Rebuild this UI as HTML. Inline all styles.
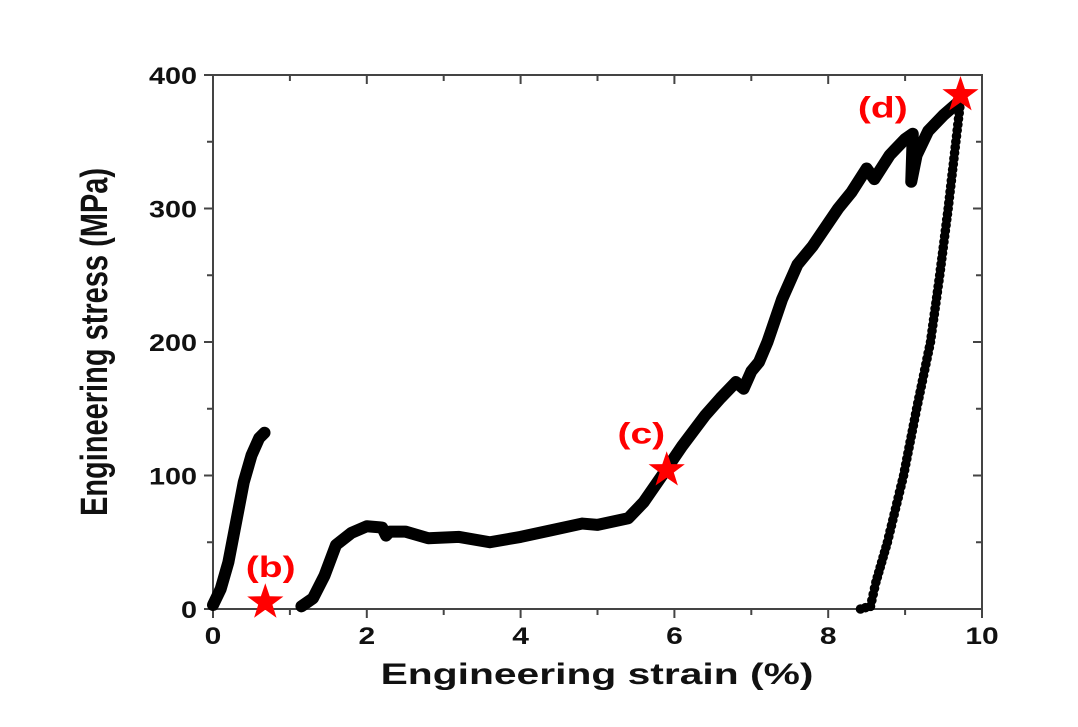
<!DOCTYPE html>
<html><head><meta charset="utf-8"><style>
body{margin:0;background:#fff;width:1078px;height:722px;overflow:hidden}
text{font-family:"Liberation Sans",Arial,sans-serif;font-weight:bold}
</style></head><body>
<svg id="chart" width="1078" height="722" viewBox="0 0 1078 722"></svg>
<script>
const xTicks=[0,2,4,6,8,10];
const yTicks=[0,100,200,300,400];
const loadStrain=[0,0.1,0.2,0.3,0.4,0.5,0.6,0.67];
const loadStress=[3,15,35,65,95,115,128,132];
const mainStrain=[1.15,1.3,1.45,1.6,1.8,2.0,2.2,2.25,2.3,2.5,2.8,3.2,3.6,4.0,4.4,4.8,5.0,5.4,5.6,5.84,6.1,6.4,6.6,6.8,6.9,7.0,7.1,7.21,7.4,7.6,7.8,8.13,8.3,8.5,8.6,8.8,9.0,9.1,9.08,9.15,9.3,9.5,9.7];
const mainStress=[2,8,25,48,57,62,61,55,58,58,53,54,50,54,59,64,63,68,80,100,122,145,158,170,165,178,185,200,232,258,272,300,312,330,322,340,352,356,320,340,358,370,380];
const unloadStrain=[8.42,8.55,8.62,8.77,8.98,9.15,9.33,9.45,9.56,9.66,9.72];
const unloadStress=[0,2,20,50,100,150,200,250,300,350,380];
const starStrain=[0.68,5.9,9.72];
const starStress=[5,104,385];
const starLabels=["(b)","(c)","(d)"];
const labelStrain=[0.75,5.57,8.71];
const labelStress=[24,124,368];

const X0=213,X1=982,Y0=609,Y1=75;
const sx=v=>X0+(v/10)*(X1-X0);
const sy=v=>Y0-(v/400)*(Y0-Y1);
const svg=document.getElementById('chart');
const NS='http://www.w3.org/2000/svg';
function mk(tag,attrs,parent){const e=document.createElementNS(NS,tag);for(const k in attrs)e.setAttribute(k,attrs[k]);(parent||svg).appendChild(e);return e;}
function stxt(x,y,anchor,size,fill,str,k){
  const t=mk('text',{x:0,y:0,'text-anchor':anchor,'font-size':size,fill:fill,transform:'translate('+x+' '+y+') scale('+k+' 1)'});
  t.textContent=str;return t;
}

const frame=mk('rect',{x:X0,y:Y1,width:X1-X0,height:Y0-Y1,fill:'none',stroke:'#444','stroke-width':2});



for(let i=0;i<=10;i++){
  const x=sx(i),len=i%2===0?9:6;
  const t=mk('line',{x1:x,y1:Y0,x2:x,y2:Y0+len,stroke:'#444','stroke-width':2});
  
  
  const t2=mk('line',{x1:x,y1:Y1,x2:x,y2:Y1+len,stroke:'#444','stroke-width':2});
  
  
}
for(let v=0;v<=400;v+=50){
  const y=sy(v),len=v%100===0?9:6;
  const t=mk('line',{x1:X0-len,y1:y,x2:X0,y2:y,stroke:'#444','stroke-width':2});
  
  
  const t2=mk('line',{x1:X1-len,y1:y,x2:X1,y2:y,stroke:'#444','stroke-width':2});
  
  
}
xTicks.forEach(v=>{
  const t=stxt(sx(v),Y0+35,'middle',24,'#111',v,1.25);
  
  
});
yTicks.forEach(v=>{
  const t=stxt(X0-16,sy(v)+9,'end',24,'#111',v,1.2);
  
  
});
const xt=stxt(597,684,'middle',30,'#111','Engineering strain (%)',1.36);


const yt=mk('text',{x:0,y:0,'text-anchor':'middle','font-size':29,fill:'#111',transform:'translate(107 342) rotate(-90) scale(1 1.3)'});
yt.textContent='Engineering stress (MPa)';



function curve(xs,ys,name){
  const pts=xs.map((x,i)=>sx(x)+','+sy(ys[i])).join(' ');
  const p=mk('polyline',{points:pts,fill:'none',stroke:'#000','stroke-width':12,'stroke-linejoin':'round','stroke-linecap':'round'});
  
  
}
curve(loadStrain,loadStress,'initial-loading-curve');
curve(mainStrain,mainStress,'main-loading-curve');

const ug=mk('g',{});


for(let i=0;i<unloadStrain.length-1;i++){
  const xa=sx(unloadStrain[i]),ya=sy(unloadStress[i]),xb=sx(unloadStrain[i+1]),yb=sy(unloadStress[i+1]);
  const d=Math.hypot(xb-xa,yb-ya),n=Math.max(1,Math.round(d/5.5));
  for(let k=0;k<n;k++){
    const f=k/n;
    const c=mk('circle',{cx:xa+(xb-xa)*f,cy:ya+(yb-ya)*f,r:4.8,fill:'#000'},ug);
    
    
  }
}

function starPath(cx,cy,R,r){let s='';for(let i=0;i<10;i++){const a=-Math.PI/2+i*Math.PI/5,rr=i%2?r:R;s+=(i?'L':'M')+(cx+rr*Math.cos(a)).toFixed(1)+','+(cy+rr*Math.sin(a)).toFixed(1);}return s+'Z';}
starStrain.forEach((v,i)=>{
  const s=mk('path',{d:starPath(sx(v),sy(starStress[i]),19,7.5),fill:'#f00'});
  
  
  const t=stxt(sx(labelStrain[i]),sy(labelStress[i]),'middle',30,'#f00',starLabels[i],1.3);
  
  
});
</script>
</body></html>
